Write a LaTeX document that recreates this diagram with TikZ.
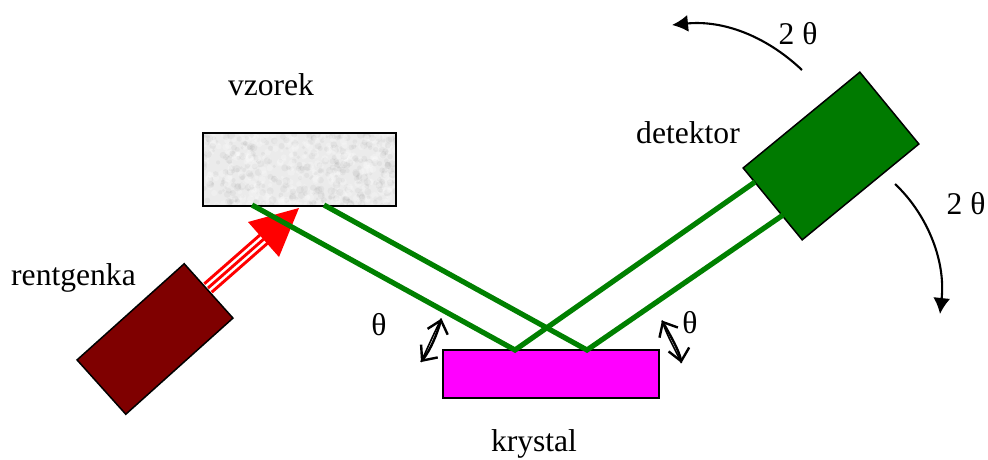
\documentclass[tikz,border=0pt]{standalone}
\usepackage{fontspec}
\setmainfont{Liberation Serif}
\usetikzlibrary{arrows.meta}
\definecolor{rtgred}{HTML}{7F0000}
\definecolor{detgreen}{HTML}{007A00}
\definecolor{beamgreen}{HTML}{008000}
\definecolor{krysmagenta}{HTML}{FF00FF}
\definecolor{vzorekgray}{HTML}{EBEBEB}
\begin{document}
\begin{tikzpicture}[
        x=1pt,
        y=-1pt,
        box/.style={
          draw,
          line width=1.5pt,
          inner sep=0pt,
          outer sep=0pt
        },
        beam/.style={
          beamgreen,
          line width=5.2pt
        },
        label/.style={
          font=\fontsize{31.6}{36}\selectfont,
          inner sep=0pt
        },
        swing/.style={
          -{Latex[length=16pt,width=17pt]},
          line width=2.1pt
        },
        tilt/.style={
          {Straight Barb[length=12pt,width=21pt]}-{Straight Barb[length=12pt,width=21pt]},
          line width=2.4pt
        },
        ray/.style={
          red,
          line width=2.9pt
        }
      ]
      \useasboundingbox (0,0) rectangle (988,459);

      % vzorek s texturou
      \node[box, fill=vzorekgray, minimum width=193pt, minimum height=73pt] (vzorek) at (299.5,169.5) {};
      \begin{scope}
        \clip (203,133) rectangle (396,206);
        \pgfmathsetseed{17}
        \foreach \i in {1,...,700} {
          \pgfmathsetmacro{\px}{203+193*rnd}
          \pgfmathsetmacro{\py}{133+73*rnd}
          \pgfmathsetmacro{\ps}{1.5+2.5*rnd}
          \pgfmathsetmacro{\pc}{int(100*rnd)}
          \ifnum\pc<50
            \fill[white, opacity=0.22] (\px,\py) circle (\ps pt);
          \else
            \fill[black, opacity=0.035] (\px,\py) circle (\ps pt);
          \fi
        }
      \end{scope}
      \draw[line width=1.5pt] (203,133) rectangle (396,206);

      \node[box, fill=rtgred, minimum width=144pt, minimum height=73pt, rotate=41.9] (rentgenka) at (155,339) {};
      \node[box, fill=detgreen, minimum width=151pt, minimum height=93pt, rotate=39.4] (detektor) at (831,156) {};
      \node[box, fill=krysmagenta, minimum width=216pt, minimum height=48pt] (krystal) at (551,374) {};

      % body na svazcich
      \coordinate (v1) at (252,205);
      \coordinate (v2) at (324,205);
      \coordinate (k1) at (515,350);
      \coordinate (k2) at (587,350);
      \coordinate (d1) at (755,182);
      \coordinate (d2) at (783,215);

      % rentgenovy svazek
      \coordinate (r0) at (208,288);
      \coordinate (r1) at (265,238);
      \coordinate (tip) at (299,208);
      \draw[ray] ([shift={(-3.7,-4.2)}]r0) -- ([shift={(-3.7,-4.2)}]r1);
      \draw[ray] (r0) -- (r1);
      \draw[ray] ([shift={(3.7,4.2)}]r0) -- ([shift={(3.7,4.2)}]r1);
      \fill[red] (tip) -- (248,222) -- (279,257) -- cycle;

      \draw[beam] (v1) -- (k1) -- (d1);
      \draw[beam] (v2) -- (k2) -- (d2);

      % otaceni detektoru
      \coordinate (s1) at (802,70);
      \coordinate (s2) at (672,25);
      \coordinate (s3) at (895,184);
      \coordinate (s4) at (940,314);
      \draw[swing] (s1) .. controls (765,35) and (722,20) .. (s2);
      \draw[swing] (s3) .. controls (925,212) and (946,258) .. (s4);

      % otaceni krystalu
      \coordinate (t1) at (441.5,318.5);
      \coordinate (t2) at (421,362);
      \coordinate (t3) at (662,320.5);
      \coordinate (t4) at (681.5,363);
      \draw[tilt] (t2) .. controls (431,349) and (437,334) .. (t1);
      \draw[line width=1.6pt] (t2) .. controls (428,347) and (434,333) .. (t1);
      \draw[tilt] (t4) .. controls (679,350) and (670,335) .. (t3);
      \draw[line width=1.6pt] (t4) .. controls (676,351) and (667,336) .. (t3);

      \node[label] (lblvzorek) at (271,85) {vzorek};
      \node[label] (lblrentgenka) at (73.5,278) {rentgenka};
      \node[label] (lbldetektor) at (688,133) {detektor};
      \node[label] (lblkrystal) at (534,444) {krystal};
      \node[label] (lblthetaa) at (379,325) {θ};
      \node[label] (lblthetab) at (690,323) {θ};
      \node[label] (lbltwoa) at (798,34) {2 θ};
      \node[label] (lbltwob) at (966,204) {2 θ};

      \end{tikzpicture}
\end{document}
